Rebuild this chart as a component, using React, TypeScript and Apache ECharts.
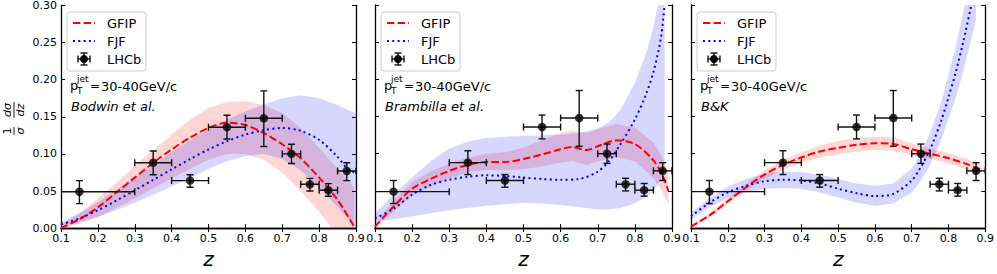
import React, { useEffect, useRef } from 'react';
import * as echarts from 'echarts';

const FONT = 'DejaVu Sans';

// ---- LHCb data (same in every panel) ----
const lhcbZ = [0.15, 0.35, 0.45, 0.55, 0.65, 0.725, 0.775, 0.825, 0.875];
const lhcbY = [0.049, 0.088, 0.064, 0.136, 0.148, 0.1, 0.059, 0.051, 0.077];
const lhcbZLow = [0.1, 0.3, 0.4, 0.5, 0.6, 0.7, 0.75, 0.8, 0.85];
const lhcbZHigh = [0.3, 0.4, 0.5, 0.6, 0.7, 0.75, 0.8, 0.85, 0.9];
const lhcbYLow = [0.033, 0.072, 0.055, 0.12, 0.11, 0.087, 0.05, 0.043, 0.064];
const lhcbYHigh = [0.064, 0.104, 0.072, 0.152, 0.185, 0.113, 0.067, 0.06, 0.088];

// ---- Panel 1: Bodwin et al. ----
const bodwinGfipZ = [0.1, 0.15, 0.2, 0.25, 0.3, 0.35, 0.4, 0.45, 0.5, 0.55, 0.6, 0.65, 0.7, 0.75, 0.8, 0.85, 0.895];
const bodwinGfip = [0.0, 0.012, 0.028, 0.048, 0.068, 0.088, 0.106, 0.122, 0.135, 0.142, 0.139, 0.128, 0.113, 0.094, 0.068, 0.038, 0.002];
const bodwinGfipUp = [0.004, 0.02, 0.04, 0.061, 0.084, 0.105, 0.126, 0.146, 0.162, 0.17, 0.171, 0.166, 0.155, 0.135, 0.108, 0.08, 0.055];
const bodwinGfipLo = [0.0, 0.006, 0.015, 0.027, 0.04, 0.054, 0.067, 0.08, 0.092, 0.1, 0.1, 0.092, 0.075, 0.05, 0.022, -0.01, -0.04];
const bodwinFjfZ = [0.1, 0.15, 0.2, 0.25, 0.3, 0.35, 0.4, 0.45, 0.5, 0.55, 0.6, 0.65, 0.7, 0.75, 0.8, 0.85, 0.875, 0.9];
const bodwinFjf = [0.005, 0.013, 0.024, 0.037, 0.051, 0.065, 0.079, 0.093, 0.106, 0.117, 0.126, 0.132, 0.135, 0.131, 0.119, 0.096, 0.081, 0.074];
const bodwinFjfUp = [0.008, 0.02, 0.035, 0.052, 0.068, 0.085, 0.102, 0.118, 0.133, 0.146, 0.157, 0.167, 0.175, 0.179, 0.175, 0.166, 0.16, 0.155];
const bodwinFjfLo = [0.002, 0.008, 0.015, 0.024, 0.034, 0.045, 0.056, 0.067, 0.08, 0.09, 0.097, 0.1, 0.093, 0.078, 0.055, 0.028, 0.014, 0.0];

// ---- Panel 2: Brambilla et al. ----
const bramGfipZ = [0.1, 0.15, 0.2, 0.25, 0.3, 0.35, 0.4, 0.45, 0.5, 0.55, 0.6, 0.63, 0.67, 0.7, 0.75, 0.8, 0.85, 0.875, 0.89];
const bramGfip = [0.002, 0.029, 0.053, 0.066, 0.077, 0.085, 0.089, 0.089, 0.093, 0.099, 0.106, 0.109, 0.105, 0.11, 0.118, 0.113, 0.091, 0.07, 0.05];
const bramGfipUp = [0.006, 0.037, 0.062, 0.076, 0.087, 0.095, 0.1, 0.102, 0.108, 0.118, 0.128, 0.131, 0.128, 0.133, 0.14, 0.135, 0.115, 0.095, 0.072];
const bramGfipLo = [0.0, 0.022, 0.044, 0.056, 0.067, 0.075, 0.078, 0.078, 0.079, 0.083, 0.088, 0.09, 0.085, 0.09, 0.095, 0.09, 0.067, 0.048, 0.032];
const bramFjfZ = [0.1, 0.15, 0.2, 0.25, 0.3, 0.35, 0.4, 0.45, 0.5, 0.55, 0.6, 0.65, 0.7, 0.73, 0.76, 0.8, 0.83, 0.85, 0.87, 0.88];
const bramFjf = [0.013, 0.026, 0.045, 0.058, 0.065, 0.069, 0.071, 0.07, 0.068, 0.066, 0.065, 0.066, 0.076, 0.09, 0.112, 0.146, 0.18, 0.21, 0.255, 0.3];
const bramFjfUp = [0.02, 0.045, 0.068, 0.09, 0.107, 0.116, 0.121, 0.123, 0.124, 0.125, 0.126, 0.128, 0.134, 0.142, 0.158, 0.195, 0.235, 0.27, 0.32, 0.36];
const bramFjfLo = [0.009, 0.012, 0.016, 0.02, 0.024, 0.027, 0.03, 0.032, 0.034, 0.033, 0.031, 0.028, 0.025, 0.025, 0.027, 0.033, 0.042, 0.05, 0.065, 0.085];

// ---- Panel 3: B&K ----
const bkGfipZ = [0.1, 0.15, 0.2, 0.25, 0.3, 0.35, 0.4, 0.45, 0.5, 0.55, 0.6, 0.65, 0.7, 0.75, 0.8, 0.85, 0.89];
const bkGfip = [0.002, 0.017, 0.036, 0.055, 0.072, 0.085, 0.095, 0.103, 0.108, 0.112, 0.114, 0.113, 0.106, 0.1, 0.094, 0.086, 0.078];
const bkGfipUp = [0.004, 0.02, 0.04, 0.06, 0.078, 0.092, 0.102, 0.111, 0.117, 0.121, 0.123, 0.122, 0.114, 0.107, 0.101, 0.093, 0.084];
const bkGfipLo = [0.0, 0.014, 0.032, 0.05, 0.066, 0.078, 0.088, 0.095, 0.099, 0.103, 0.105, 0.104, 0.098, 0.093, 0.087, 0.079, 0.072];
const bkFjfZ = [0.1, 0.15, 0.2, 0.25, 0.3, 0.35, 0.4, 0.45, 0.5, 0.55, 0.6, 0.65, 0.7, 0.72, 0.75, 0.78, 0.8, 0.82, 0.84, 0.86, 0.875];
const bkFjf = [0.016, 0.034, 0.048, 0.057, 0.063, 0.065, 0.064, 0.06, 0.053, 0.047, 0.043, 0.046, 0.064, 0.078, 0.106, 0.144, 0.176, 0.21, 0.25, 0.295, 0.33];
const bkFjfUp = [0.021, 0.04, 0.056, 0.066, 0.073, 0.076, 0.075, 0.072, 0.066, 0.06, 0.057, 0.06, 0.08, 0.096, 0.128, 0.17, 0.206, 0.245, 0.29, 0.335, 0.37];
const bkFjfLo = [0.012, 0.028, 0.04, 0.048, 0.053, 0.054, 0.053, 0.048, 0.041, 0.034, 0.03, 0.033, 0.048, 0.06, 0.085, 0.118, 0.147, 0.176, 0.21, 0.25, 0.28];

const xTicks = { min: 0.1, max: 0.9, interval: 0.1 };
const yTicks = { min: 0, max: 0.3, interval: 0.05 };

const panelLabels = ['Bodwin et al.', 'Brambilla et al.', 'B&K'];
const legendNames = ['GFIP', 'FJF', 'LHCb'];

const panels = [
  { gz: bodwinGfipZ, g: bodwinGfip, gu: bodwinGfipUp, gl: bodwinGfipLo, fz: bodwinFjfZ, f: bodwinFjf, fu: bodwinFjfUp, fl: bodwinFjfLo },
  { gz: bramGfipZ, g: bramGfip, gu: bramGfipUp, gl: bramGfipLo, fz: bramFjfZ, f: bramFjf, fu: bramFjfUp, fl: bramFjfLo },
  { gz: bkGfipZ, g: bkGfip, gu: bkGfipUp, gl: bkGfipLo, fz: bkFjfZ, f: bkFjf, fu: bkFjfUp, fl: bkFjfLo },
];

const gridLefts = [61, 375, 691];
const gridWidths = [295, 297, 295];
const gridTop = 5;
const gridHeight = 230;

const RED_DASH = [7.4, 3.2];
const BLUE_DOT = [2, 3.3];

function bandSeries(k: number, xs: number[], up: number[], lo: number[], color: string) {
  return {
    type: 'custom',
    xAxisIndex: 2 * k,
    yAxisIndex: 2 * k,
    clip: true,
    silent: true,
    z: 1,
    data: [[xs[0], lo[0]]],
    encode: { x: 0, y: 1 },
    renderItem: (_p: any, api: any) => {
      const pts: number[][] = [];
      for (let i = 0; i < xs.length; i++) pts.push(api.coord([xs[i], up[i]]));
      for (let i = xs.length - 1; i >= 0; i--) pts.push(api.coord([xs[i], lo[i]]));
      return { type: 'polygon', shape: { points: pts }, style: { fill: color } };
    },
  };
}

function curveSeries(k: number, name: string, xs: number[], ys: number[], color: string, dash: number[]) {
  return {
    type: 'line',
    name,
    xAxisIndex: 2 * k,
    yAxisIndex: 2 * k,
    data: xs.map((x, i) => [x, ys[i]]),
    showSymbol: false,
    symbol: 'none',
    smooth: 0.3,
    silent: true,
    z: 3,
    lineStyle: { color, width: 2, type: dash },
  };
}

function errorSeries(k: number) {
  return {
    type: 'custom',
    xAxisIndex: 2 * k,
    yAxisIndex: 2 * k,
    clip: true,
    silent: true,
    z: 4,
    data: lhcbZ.map((z, i) => [z, lhcbY[i], lhcbZLow[i], lhcbZHigh[i], lhcbYLow[i], lhcbYHigh[i]]),
    encode: { x: 0, y: 1 },
    renderItem: (_p: any, api: any) => {
      const x = api.value(0), y = api.value(1);
      const l = api.coord([api.value(2), y]);
      const r = api.coord([api.value(3), y]);
      const b = api.coord([x, api.value(4)]);
      const t = api.coord([x, api.value(5)]);
      const st = { stroke: '#111', lineWidth: 1.4 };
      const cap = 3.5;
      const ln = (x1: number, y1: number, x2: number, y2: number) => ({ type: 'line', shape: { x1, y1, x2, y2 }, style: st });
      return {
        type: 'group',
        children: [
          ln(l[0], l[1], r[0], r[1]),
          ln(l[0], l[1] - cap, l[0], l[1] + cap),
          ln(r[0], r[1] - cap, r[0], r[1] + cap),
          ln(b[0], b[1], t[0], t[1]),
          ln(b[0] - cap, b[1], b[0] + cap, b[1]),
          ln(t[0] - cap, t[1], t[0] + cap, t[1]),
        ],
      };
    },
  };
}

function scatterSeries(k: number) {
  return {
    type: 'scatter',
    name: 'LHCb',
    xAxisIndex: 2 * k,
    yAxisIndex: 2 * k,
    data: lhcbZ.map((z, i) => [z, lhcbY[i]]),
    symbol: 'circle',
    symbolSize: 8.5,
    itemStyle: { color: '#000' },
    silent: true,
    z: 5,
  };
}

function panelGraphics(k: number) {
  const L = gridLefts[k];
  const txt = (x: number, y: number, text: string, size: number, italic = false) => ({
    type: 'text',
    x,
    y,
    z: 100,
    style: { text, fill: '#000', fontSize: size, fontFamily: FONT, fontStyle: italic ? 'italic' : 'normal', verticalAlign: 'middle', align: 'left' },
  });
  const ln = (x1: number, y1: number, x2: number, y2: number, stroke: string, lineWidth: number, lineDash?: number[]) => ({
    type: 'line',
    z: 100,
    shape: { x1, y1, x2, y2 },
    style: { stroke, lineWidth, lineDash },
  });
  const cx = L + 23, cy = 59;
  return [
    {
      type: 'rect',
      z: 99,
      shape: { x: L + 6, y: 12, width: 79, height: 59, r: 3 },
      style: { fill: 'rgba(255,255,255,0.8)', stroke: '#cccccc', lineWidth: 1 },
    },
    ln(L + 12, 23, L + 34, 23, 'red', 2, RED_DASH),
    ln(L + 12, 41, L + 34, 41, 'blue', 2, BLUE_DOT),
    ln(cx - 6, cy, cx + 6, cy, '#111', 1.4),
    ln(cx - 6, cy - 3.5, cx - 6, cy + 3.5, '#111', 1.4),
    ln(cx + 6, cy - 3.5, cx + 6, cy + 3.5, '#111', 1.4),
    ln(cx, cy - 6, cx, cy + 6, '#111', 1.4),
    ln(cx - 3.5, cy - 6, cx + 3.5, cy - 6, '#111', 1.4),
    ln(cx - 3.5, cy + 6, cx + 3.5, cy + 6, '#111', 1.4),
    { type: 'circle', z: 101, shape: { cx, cy, r: 4 }, style: { fill: '#000' } },
    txt(L + 46, 23, legendNames[0], 13),
    txt(L + 46, 41, legendNames[1], 13),
    txt(L + 46, 59, legendNames[2], 13),
    txt(L + 9, 85, 'p', 13),
    txt(L + 16, 79, 'jet', 9),
    txt(L + 16, 91, 'T', 9),
    txt(L + 29, 86, '=', 12),
    txt(L + 40, 86, '30-40GeV/c', 13),
    txt(L + 10, 106, panelLabels[k], 13, true),
  ];
}

function yLabelGraphic() {
  const t = (x: number, y: number, text: string, italic: boolean) => ({
    type: 'text',
    x,
    y,
    style: { text, fill: '#000', fontSize: 11, fontFamily: FONT, fontStyle: italic ? 'italic' : 'normal', align: 'center', verticalAlign: 'middle' },
  });
  return {
    type: 'group',
    x: 14,
    y: 119,
    rotation: Math.PI / 2,
    children: [
      t(-12, -6.5, '1', false),
      { type: 'line', shape: { x1: -16, y1: 0, x2: -8, y2: 0 }, style: { stroke: '#000', lineWidth: 0.9 } },
      t(-12, 6.5, 'σ', true),
      t(9, -6.5, 'dσ', true),
      { type: 'line', shape: { x1: 1, y1: 0, x2: 17, y2: 0 }, style: { stroke: '#000', lineWidth: 0.9 } },
      t(9, 6.5, 'dz', true),
    ],
  };
}

export default function App() {
  const ref = useRef<HTMLDivElement>(null);
  useEffect(() => {
    if (!ref.current) return;
    const chart = echarts.init(ref.current, null, { renderer: 'svg' });
    const grid = gridLefts.map((l, k) => ({ left: l, width: gridWidths[k], top: gridTop, height: gridHeight, containLabel: false }));
    const xAxis: any[] = [];
    const yAxis: any[] = [];
    const axisLine = { show: true, lineStyle: { color: '#000', width: 1.3 } };
    const axisTick = { show: true, inside: true, length: 4, lineStyle: { color: '#000', width: 1 } };
    for (let k = 0; k < 3; k++) {
      xAxis.push({
        type: 'value', gridIndex: k, position: 'bottom', ...xTicks,
        axisLine, axisTick, splitLine: { show: false },
        axisLabel: { show: true, margin: 5, fontSize: 11, color: '#000', fontFamily: FONT, showMinLabel: true, showMaxLabel: true, formatter: (v: number) => v.toFixed(1) },
        name: 'z', nameLocation: 'middle', nameGap: 17,
        nameTextStyle: { fontSize: 20, fontStyle: 'italic', fontFamily: FONT, color: '#000' },
      });
      xAxis.push({
        type: 'value', gridIndex: k, position: 'top', ...xTicks,
        axisLine, axisTick, splitLine: { show: false }, axisLabel: { show: false },
      });
      yAxis.push({
        type: 'value', gridIndex: k, position: 'left', ...yTicks,
        axisLine, axisTick, splitLine: { show: false },
        axisLabel: { show: k === 0, margin: 4, fontSize: 11, color: '#000', fontFamily: FONT, showMinLabel: true, showMaxLabel: true, formatter: (v: number) => v.toFixed(2) },
      });
      yAxis.push({
        type: 'value', gridIndex: k, position: 'right', ...yTicks,
        axisLine, axisTick, splitLine: { show: false }, axisLabel: { show: false },
      });
    }
    const series: any[] = [];
    panels.forEach((p, k) => {
      series.push(bandSeries(k, p.gz, p.gu, p.gl, 'rgba(255,0,0,0.16)'));
      series.push(bandSeries(k, p.fz, p.fu, p.fl, 'rgba(0,0,255,0.16)'));
      series.push(curveSeries(k, 'GFIP', p.gz, p.g, 'red', RED_DASH));
      series.push(curveSeries(k, 'FJF', p.fz, p.f, 'blue', BLUE_DOT));
      series.push(errorSeries(k));
      series.push(scatterSeries(k));
    });
    const graphic: any[] = [yLabelGraphic()];
    for (let k = 0; k < 3; k++) graphic.push(...panelGraphics(k));
    chart.setOption({
      animation: false,
      backgroundColor: '#fff',
      textStyle: { fontFamily: FONT },
      grid,
      xAxis,
      yAxis,
      series,
      graphic,
    });
    return () => chart.dispose();
  }, []);
  return <div ref={ref} style={{ position: 'absolute', left: 0, top: 0, width: 997, height: 274 }} />;
}
